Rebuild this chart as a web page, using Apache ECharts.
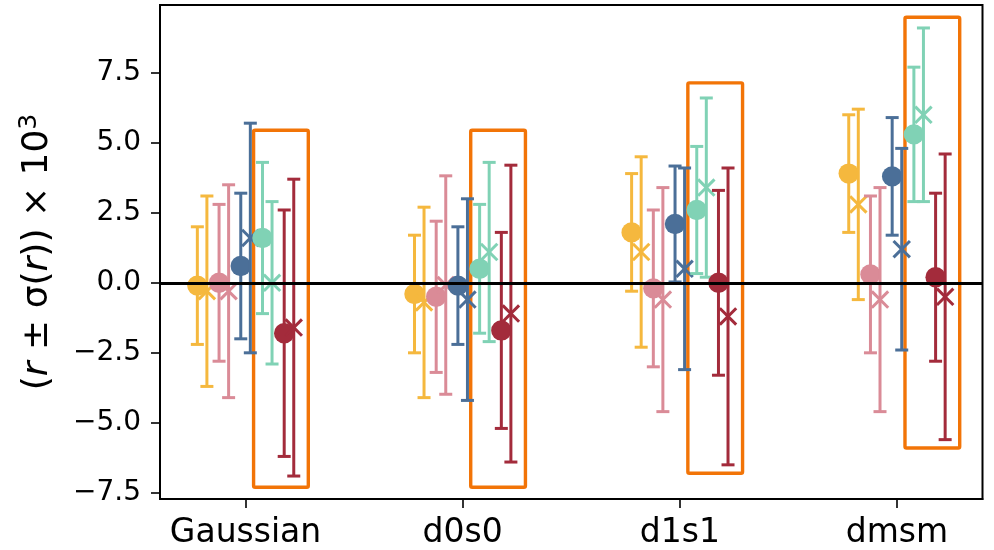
<!DOCTYPE html>
<html>
<head>
<meta charset="utf-8">
<script src="https://cdn.jsdelivr.net/npm/echarts@6/dist/echarts.min.js"></script>
<style>
html,body{margin:0;padding:0;background:#fff;}
#chart{width:994px;height:550px;}
</style>
</head>
<body>
<div id="chart"></div>
<script>
// ---- data ----
const categories = ['Gaussian', 'd0s0', 'd1s1', 'dmsm'];
const yTicks = [-7.5, -5.0, -2.5, 0.0, 2.5, 5.0, 7.5];

const yellowCircle    = [-0.1, -0.4, 1.8, 3.9];
const yellowCircleErr = [2.1, 2.1, 2.1, 2.1];
const yellowCross     = [-0.3, -0.7, 1.1, 2.8];
const yellowCrossErr  = [3.4, 3.4, 3.4, 3.4];

const pinkCircle      = [0.0, -0.5, -0.2, 0.3];
const pinkCircleErr   = [2.8, 2.7, 2.8, 2.8];
const pinkCross       = [-0.3, -0.08, -0.6, -0.6];
const pinkCrossErr    = [3.8, 3.9, 4.0, 4.0];

const blueCircle      = [0.6, -0.1, 2.1, 3.8];
const blueCircleErr   = [2.6, 2.1, 2.07, 2.1];
const blueCross       = [1.6, -0.6, 0.5, 1.2];
const blueCrossErr    = [4.1, 3.6, 3.6, 3.6];

const greenCircle     = [1.6, 0.5, 2.6, 5.3];
const greenCircleErr  = [2.7, 2.3, 2.27, 2.4];
const greenCross      = [0.0, 1.1, 3.4, 6.0];
const greenCrossErr   = [2.9, 3.2, 3.2, 3.1];

const redCircle       = [-1.8, -1.7, 0.0, 0.2];
const redCircleErr    = [4.4, 3.5, 3.3, 3.0];
const redCross        = [-1.6, -1.1, -1.2, -0.5];
const redCrossErr     = [5.3, 5.3, 5.3, 5.1];

const boxLow  = [-7.3, -7.3, -6.8, -5.9];
const boxHigh = [5.45, 5.45, 7.14, 9.48];

// ---- styling ----
const groups = [
  {color: '#F5B83E', c: yellowCircle, ce: yellowCircleErr, x: yellowCross, xe: yellowCrossErr},
  {color: '#DA8B97', c: pinkCircle,   ce: pinkCircleErr,   x: pinkCross,   xe: pinkCrossErr},
  {color: '#4B6F98', c: blueCircle,   ce: blueCircleErr,   x: blueCross,   xe: blueCrossErr},
  {color: '#80D2B5', c: greenCircle,  ce: greenCircleErr,  x: greenCross,  xe: greenCrossErr},
  {color: '#A32B3B', c: redCircle,    ce: redCircleErr,    x: redCross,    xe: redCrossErr}
];
const colorStep = 0.1, markStep = 0.022;
const FONT = 'DejaVu Sans';

function errRender(marker, color) {
  return function (params, api) {
    const x = api.value(0), m = api.value(1), e = api.value(2);
    const top = api.coord([x, m + e]);
    const bot = api.coord([x, m - e]);
    const ctr = api.coord([x, m]);
    const lw = 3, cap = 6.5;
    const st = {stroke: color, lineWidth: lw, fill: null};
    const children = [
      {type: 'line', shape: {x1: top[0], y1: top[1], x2: bot[0], y2: bot[1]}, style: st},
      {type: 'line', shape: {x1: top[0] - cap, y1: top[1], x2: top[0] + cap, y2: top[1]}, style: st},
      {type: 'line', shape: {x1: bot[0] - cap, y1: bot[1], x2: bot[0] + cap, y2: bot[1]}, style: st}
    ];
    if (marker === 'circle') {
      children.push({type: 'circle', shape: {cx: ctr[0], cy: ctr[1], r: 10.2}, style: {fill: color}});
    } else {
      const h = 8.2;
      const xs = {stroke: color, lineWidth: 3, fill: null};
      children.push({type: 'line', shape: {x1: ctr[0] - h, y1: ctr[1] - h, x2: ctr[0] + h, y2: ctr[1] + h}, style: xs});
      children.push({type: 'line', shape: {x1: ctr[0] - h, y1: ctr[1] + h, x2: ctr[0] + h, y2: ctr[1] - h}, style: xs});
    }
    return {type: 'group', children: children};
  };
}

const series = [];
// highlight boxes + zero line
series.push({
  type: 'custom',
  z: 1,
  data: categories.map((c, i) => [i, boxLow[i], boxHigh[i]]),
  renderItem: function (params, api) {
    const i = api.value(0);
    const p1 = api.coord([i + 0.037, api.value(2)]);
    const p2 = api.coord([i + 0.289, api.value(1)]);
    return {type: 'rect', shape: {x: p1[0], y: p1[1], width: p2[0] - p1[0], height: p2[1] - p1[1], r: 1.5},
      style: {fill: null, stroke: '#F27407', lineWidth: 3.4, lineJoin: 'round'}};
  },
  markLine: {
    silent: true, symbol: 'none', animation: false,
    label: {show: false},
    lineStyle: {color: '#000', width: 3.2, type: 'solid'},
    data: [{yAxis: 0}]
  }
});
groups.forEach((g, gi) => {
  const off = (gi - 2) * colorStep;
  series.push({
    type: 'custom', z: 3,
    data: categories.map((c, i) => [i + off - markStep, g.c[i], g.ce[i]]),
    renderItem: errRender('circle', g.color)
  });
  series.push({
    type: 'custom', z: 3,
    data: categories.map((c, i) => [i + off + markStep, g.x[i], g.xe[i]]),
    renderItem: errRender('cross', g.color)
  });
});

const chart = echarts.init(document.getElementById('chart'), null, {renderer: 'canvas'});
chart.setOption({
  animation: false,
  backgroundColor: '#fff',
  grid: {left: 160, right: 11.5, top: 5, bottom: 51, show: true, borderColor: '#000', borderWidth: 2, backgroundColor: 'transparent'},
  xAxis: {
    type: 'value', min: -0.394, max: 3.394,
    axisLine: {show: true, onZero: false, lineStyle: {color: '#000', width: 2}},
    axisTick: {show: true, length: 9, lineStyle: {color: '#000', width: 1.6}, customValues: [0, 1, 2, 3]},
    axisLabel: {customValues: [0, 1, 2, 3], formatter: v => categories[Math.round(v)], color: '#000', fontFamily: FONT, fontSize: 33, margin: 18},
    splitLine: {show: false}
  },
  yAxis: {
    type: 'value', min: -7.72, max: 9.92,
    axisLine: {show: true, onZero: false, lineStyle: {color: '#000', width: 2}},
    axisTick: {show: true, length: 9, lineStyle: {color: '#000', width: 1.6}, customValues: yTicks},
    axisLabel: {customValues: yTicks, formatter: v => (v < 0 ? '\u2212' : '') + Math.abs(v).toFixed(1), color: '#000', fontFamily: FONT, fontSize: 28, margin: 19},
    splitLine: {show: false},
    name: '({i|r} ± σ({i|r})) × 10{sup|3}',
    nameLocation: 'middle', nameRotate: 90, nameGap: 101,
    nameTextStyle: {
      color: '#000', fontFamily: FONT, fontSize: 36, lineHeight: 42,
      rich: {
        i: {fontStyle: 'italic', fontFamily: FONT, fontSize: 36, color: '#000', lineHeight: 42},
        sup: {fontFamily: FONT, fontSize: 25, color: '#000', verticalAlign: 'top', lineHeight: 42}
      }
    }
  },
  series: series
});
</script>
</body>
</html>
